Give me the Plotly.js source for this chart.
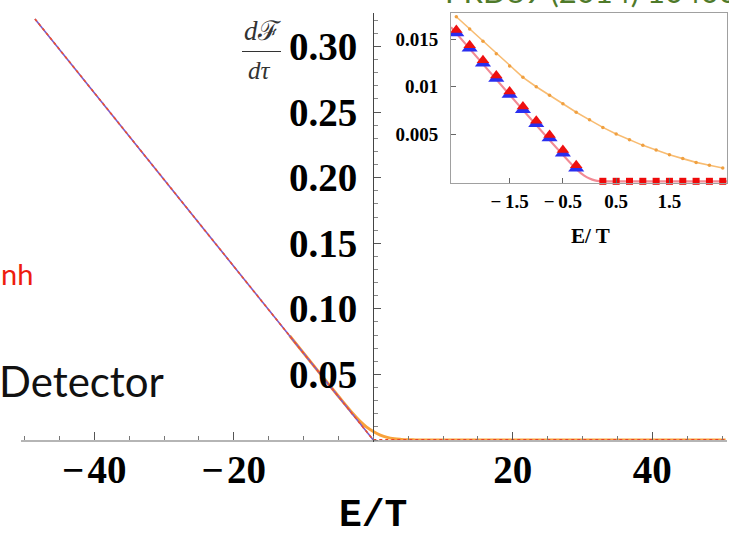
<!DOCTYPE html>
<html><head><meta charset="utf-8">
<script src="https://cdn.plot.ly/plotly-3.0.1.min.js"></script>
<style>html,body{margin:0;padding:0;background:#fff}#chart{width:729px;height:538px}</style>
</head><body><div id="chart"></div>
<script>
// ---- main plot data ----
const mainLineE = [-48.5, 0];
const mainLineV = [0.321, 0];
const mainZeroE = [0, 50.5];
const mainZeroV = [0, 0];
const mainOrangeE = [-12, -8, -5, -3, -2, -1, 0, 1, 2, 3, 4, 5, 6, 8, 50.5];
const mainOrangeV = [0.0796, 0.0531, 0.0334, 0.0206, 0.0148, 0.0100, 0.0065, 0.0038, 0.0020, 0.0010, 0.0005, 0.0002, 0.0001, 0, 0];
const mainXTicks = [-40, -20, 20, 40];
const mainXTickText = ['\u2212\u200a40', '\u2212\u200a20', '20', '40'];
const mainYTicks = [0.05, 0.10, 0.15, 0.20, 0.25, 0.30];
const mainYTickText = ['0.05', '0.10', '0.15', '0.20', '0.25', '0.30'];

// ---- inset data ----
const insetE = [-2.5, -2.25, -2.0, -1.75, -1.5, -1.25, -1.0, -0.75, -0.5, -0.25, 0, 0.25, 0.5, 0.75, 1.0, 1.25, 1.5, 1.75, 2.0, 2.25, 2.5];
const insetOrange = [0.0174, 0.0161, 0.0148, 0.0135, 0.0122, 0.0110, 0.0100, 0.0091, 0.0082, 0.0073, 0.0065, 0.0057, 0.0050, 0.0044, 0.0038, 0.0033, 0.0028, 0.0024, 0.0020, 0.0017, 0.0014];
const triE = [-2.5, -2.25, -2.0, -1.75, -1.5, -1.25, -1.0, -0.75, -0.5, -0.25];
const blueTri = [0.0157, 0.0141, 0.0125, 0.0109, 0.0092, 0.0076, 0.0061, 0.0046, 0.0030, 0.0014];
const redTri = [0.0160, 0.0144, 0.0128, 0.0112, 0.0095, 0.0079, 0.0064, 0.0049, 0.0033, 0.0017];
const pinkE = [-2.6, -0.25, -0.1, 0, 0.1, 0.2, 0.3, 2.6];
const pinkV = [0.0163, 0.0013, 0.0006, 0.0003, 0.0001, 0.00002, 0, 0];
const squareE = [0.25, 0.5, 0.75, 1.0, 1.25, 1.5, 1.75, 2.0, 2.25, 2.5];
const squareV = [0, 0, 0, 0, 0, 0, 0, 0, 0, 0];
const insetXTicks = [-1.5, -0.5, 0.5, 1.5];
const insetXTickText = ['\u2212\u20091.5', '\u2212\u20090.5', '0.5', '1.5'];
const insetYTicks = [0.005, 0.01, 0.015];
const insetYTickText = ['0.005', '0.01', '0.015'];

// pixel helpers for layout placement
const L = 21, R = 727, T = 13, B = 442;
const px = x => (x - L) / (R - L);
const py = y => (B - y) / (B - T);

const traces = [
  {x: mainOrangeE, y: mainOrangeV, mode: 'lines', line: {color: '#f9a23a', width: 3, shape: 'spline'}, xaxis: 'x', yaxis: 'y'},
  {x: mainLineE, y: mainLineV, mode: 'lines', line: {color: '#7a5ccc', width: 1.6}, xaxis: 'x', yaxis: 'y'},
  {x: mainLineE, y: mainLineV, mode: 'lines', line: {color: '#f0502c', width: 1.6, dash: 'dot'}, xaxis: 'x', yaxis: 'y'},
  {x: mainZeroE, y: mainZeroV, mode: 'lines', line: {color: '#e8432a', width: 2, dash: 'dot'}, xaxis: 'x', yaxis: 'y'},

  {x: pinkE, y: pinkV, mode: 'lines', line: {color: '#f28a94', width: 2.2, shape: 'spline'}, xaxis: 'x2', yaxis: 'y2', cliponaxis: false},
  {x: insetE, y: insetOrange, mode: 'lines+markers', line: {color: '#f8bc72', width: 1.6}, marker: {color: '#f0a040', size: 3.5}, xaxis: 'x2', yaxis: 'y2'},
  {x: triE, y: blueTri, mode: 'markers', marker: {symbol: 'triangle-up', color: '#2a2ff0', size: 14}, xaxis: 'x2', yaxis: 'y2'},
  {x: triE, y: redTri, mode: 'markers', marker: {symbol: 'triangle-up', color: '#ee1010', size: 11}, xaxis: 'x2', yaxis: 'y2'},
  {x: squareE, y: squareV, mode: 'markers', marker: {symbol: 'square', color: '#ee0a0a', size: 7}, xaxis: 'x2', yaxis: 'y2', cliponaxis: false}
];

const bigFont = {family: 'Liberation Serif, Times New Roman, serif', size: 39, color: '#000', weight: 'bold'};
const smallFont = {family: 'Liberation Serif, Times New Roman, serif', size: 19, color: '#000', weight: 'bold'};

const layout = {
  width: 729, height: 538,
  margin: {l: L, r: 729 - R, t: T, b: 538 - B, pad: 0},
  paper_bgcolor: '#fff', plot_bgcolor: 'rgba(0,0,0,0)',
  showlegend: false,
  xaxis: {
    domain: [0, 1], range: [-50.5, 50.7], anchor: 'free', position: 0.0015 / 0.327,
    showgrid: false, zeroline: false, showline: true, linecolor: '#b5b5b5', linewidth: 1.5,
    ticks: 'inside', ticklen: 8, tickcolor: '#555', tickwidth: 1,
    tickvals: mainXTicks, ticktext: mainXTickText, tickfont: bigFont, ticklabelstandoff: -5,
    minor: {dtick: 5, tick0: 0, ticks: 'inside', ticklen: 4, tickcolor: '#777', showgrid: false}
  },
  yaxis: {
    domain: [0, 1], range: [-0.0015, 0.3255], anchor: 'free', position: px(373), side: 'left',
    showgrid: false, zeroline: false, showline: true, linecolor: '#444', linewidth: 1,
    ticks: 'inside', ticklen: 7, tickcolor: '#555', tickwidth: 1,
    tickvals: mainYTicks, ticktext: mainYTickText, tickfont: bigFont, ticklabelstandoff: 8,
    minor: {dtick: 0.01, tick0: 0, ticks: 'inside', ticklen: 4, tickcolor: '#888', showgrid: false}
  },
  xaxis2: {
    domain: [px(451), 1], range: [-2.6, 2.58], anchor: 'y2',
    showgrid: false, zeroline: false, showline: true, mirror: true, linecolor: '#a0a0a0', linewidth: 1,
    ticks: 'inside', ticklen: 5, tickcolor: '#666',
    tickvals: insetXTicks, ticktext: insetXTickText, tickfont: smallFont, ticklabelstandoff: 1
  },
  yaxis2: {
    domain: [py(183), 1], range: [-0.00018, 0.0178], anchor: 'x2',
    showgrid: false, zeroline: false, showline: true, mirror: true, linecolor: '#a0a0a0', linewidth: 1,
    ticks: 'inside', ticklen: 5, tickcolor: '#666',
    tickvals: insetYTicks, ticktext: insetYTickText, tickfont: smallFont, ticklabelstandoff: 8
  },
  shapes: [
    {type: 'line', xref: 'paper', yref: 'paper', x0: px(242), x1: px(281), y0: py(51.5), y1: py(51.5), line: {color: '#333', width: 1}}
  ],
  annotations: [
    {xref: 'paper', yref: 'paper', x: px(373), y: py(538), text: 'E/T', showarrow: false, xanchor: 'center', yanchor: 'bottom', borderpad: 0,
     font: {family: 'Liberation Mono, Courier New, monospace', size: 38, color: '#000', weight: 'bold'}},
    {xref: 'paper', yref: 'paper', x: px(590), y: py(236), text: 'E/ T', showarrow: false, xanchor: 'center', yanchor: 'middle',
     font: {family: 'Liberation Serif, Times New Roman, serif', size: 21, color: '#000', weight: 'bold'}},
    {xref: 'paper', yref: 'paper', x: px(262), y: py(31), text: '<i>d</i>\u2131', showarrow: false, xanchor: 'center', yanchor: 'middle',
     font: {family: 'Liberation Serif, DejaVu Serif, serif', size: 27, color: '#333'}},
    {xref: 'paper', yref: 'paper', x: px(259), y: py(71), text: '<i>d\u03c4</i>', showarrow: false, xanchor: 'center', yanchor: 'middle',
     font: {family: 'Liberation Serif, DejaVu Serif, serif', size: 25, color: '#333'}},
    {xref: 'paper', yref: 'paper', x: px(443), y: py(-9), text: 'PRD89 (2014) 104002', showarrow: false, xanchor: 'left', yanchor: 'middle',
     font: {family: 'Lato, Open Sans, sans-serif', size: 31, color: '#4f7a2a'}},
    {xref: 'paper', yref: 'paper', x: px(0), y: py(273), text: 'nh', showarrow: false, xanchor: 'left', yanchor: 'middle', borderpad: 0,
     font: {family: 'Lato, Open Sans, sans-serif', size: 29, color: '#ee1c0e'}},
    {xref: 'paper', yref: 'paper', x: px(-3), y: py(381), text: 'Detector', showarrow: false, xanchor: 'left', yanchor: 'middle',
     font: {family: 'Lato, Open Sans, sans-serif', size: 42, color: '#111'}}
  ]
};

Plotly.newPlot('chart', traces, layout, {staticPlot: true, displayModeBar: false});
</script></body></html>
